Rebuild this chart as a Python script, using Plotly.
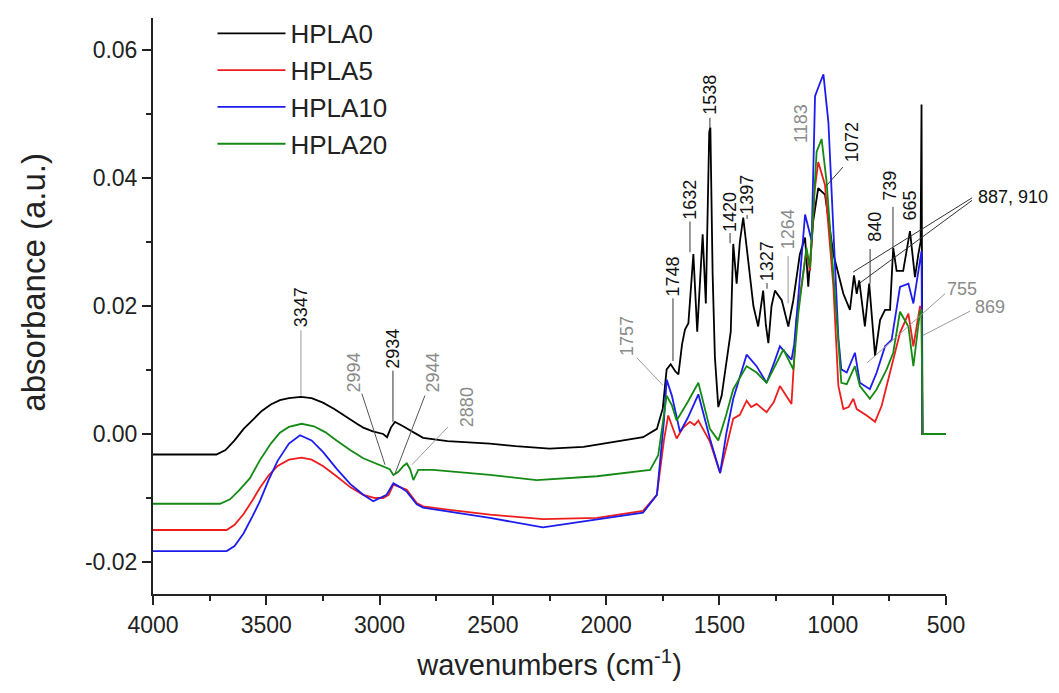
# Espectros FTIR de las muestras HPLA (absorbancia vs número de onda)

# ------------------------------- Librerias necesarias -------------------------------
import plotly.graph_objects as go

# ------------------------------- Datos -------------------------------

# HPLA0 (negro)
wn_hpla0 = [4000, 3900, 3800, 3720, 3680, 3640, 3600, 3560, 3520, 3480, 3440, 3400, 3347,
            3300, 3250, 3200, 3150, 3100, 3072, 3030, 2984, 2967, 2950, 2932, 2900, 2866,
            2808, 2700, 2600, 2513, 2400, 2250, 2100, 2014, 1900, 1837, 1776, 1750, 1733,
            1715, 1695, 1681, 1665, 1652, 1637, 1615, 1598, 1585, 1574, 1560, 1545, 1540,
            1530, 1520, 1505, 1490, 1461, 1450, 1439, 1424, 1410, 1395, 1373, 1350, 1329,
            1307, 1295, 1284, 1270, 1255, 1225, 1196, 1174, 1145, 1122, 1108, 1086, 1064,
            1034, 997, 953, 924, 906, 894, 883, 858, 839, 813, 791, 769, 747, 733, 718, 689,
            659, 637, 622, 612, 608, 604, 500]
abs_hpla0 = [-0.0032, -0.0032, -0.0031, -0.0032, -0.0025, -0.0010, 0.0008, 0.0022, 0.0036,
             0.0046, 0.0053, 0.0056, 0.0058, 0.0056, 0.0049, 0.0039, 0.0027, 0.0016, 0.0010,
             0.0004, 0.0000, -0.0005, 0.0010, 0.0019, 0.0013, 0.0006, -0.0006, -0.0011,
             -0.0013, -0.0015, -0.0019, -0.0023, -0.0020, -0.0015, -0.0009, -0.0005, 0.0008,
             0.0040, 0.0101, 0.0109, 0.0098, 0.0093, 0.0140, 0.0163, 0.0173, 0.0281, 0.0160,
             0.0250, 0.0312, 0.0204, 0.0472, 0.0479, 0.0250, 0.0120, 0.0042, 0.0060, 0.0137,
             0.0160, 0.0297, 0.0235, 0.0300, 0.0338, 0.0271, 0.0200, 0.0168, 0.0224, 0.0170,
             0.0142, 0.0200, 0.0224, 0.0209, 0.0168, 0.0209, 0.0281, 0.0307, 0.0230, 0.0333,
             0.0384, 0.0374, 0.0281, 0.0219, 0.0194, 0.0248, 0.0219, 0.0240, 0.0168, 0.0235,
             0.0122, 0.0178, 0.0194, 0.0194, 0.0291, 0.0255, 0.0255, 0.0317, 0.0245, 0.0281,
             0.0300, 0.0515, 0.0000, 0.0000]

# HPLA5 (rojo)
wn_hpla5 = [4000, 3800, 3675, 3640, 3600, 3560, 3528, 3490, 3450, 3400, 3344, 3300, 3250,
            3190, 3130, 3072, 3020, 2984, 2960, 2939, 2910, 2880, 2836, 2808, 2700, 2513,
            2279, 2040, 1837, 1776, 1745, 1726, 1689, 1660, 1630, 1610, 1593, 1542, 1497,
            1470, 1439, 1410, 1380, 1360, 1336, 1292, 1260, 1233, 1182, 1160, 1116, 1100,
            1080, 1064, 1034, 997, 975, 953, 930, 909, 894, 850, 813, 784, 740, 703, 666,
            644, 615, 608, 604, 500]
abs_hpla5 = [-0.0150, -0.0150, -0.0150, -0.0142, -0.0125, -0.0103, -0.0084, -0.0065, -0.0050,
             -0.0040, -0.0037, -0.0040, -0.0050, -0.0066, -0.0083, -0.0095, -0.0100, -0.0100,
             -0.0095, -0.0079, -0.0083, -0.0087, -0.0108, -0.0113, -0.0118, -0.0126, -0.0133,
             -0.0131, -0.0120, -0.0095, -0.0010, 0.0029, -0.0007, 0.0010, 0.0019, 0.0014,
             0.0021, -0.0012, -0.0061, -0.0020, 0.0024, 0.0030, 0.0052, 0.0042, 0.0047,
             0.0034, 0.0050, 0.0075, 0.0047, 0.0178, 0.0286, 0.0255, 0.0380, 0.0425, 0.0389,
             0.0230, 0.0075, 0.0039, 0.0042, 0.0055, 0.0039, 0.0029, 0.0019, 0.0044, 0.0106,
             0.0158, 0.0188, 0.0137, 0.0199, 0.0199, 0.0000, 0.0000]

# HPLA10 (azul)
wn_hpla10 = [4000, 3800, 3675, 3640, 3600, 3560, 3528, 3490, 3450, 3400, 3351, 3300, 3250,
             3190, 3130, 3072, 3028, 2969, 2939, 2910, 2880, 2836, 2808, 2700, 2513, 2279,
             2040, 1837, 1776, 1745, 1733, 1710, 1674, 1640, 1593, 1542, 1497, 1470, 1439,
             1410, 1380, 1336, 1292, 1260, 1233, 1182, 1170, 1152, 1122, 1093, 1078, 1060,
             1041, 1019, 997, 975, 962, 938, 902, 880, 836, 806, 769, 740, 703, 666, 644,
             615, 608, 604, 500]
abs_hpla10 = [-0.0183, -0.0183, -0.0183, -0.0175, -0.0155, -0.0128, -0.0105, -0.0072, -0.0042,
              -0.0015, -0.0002, -0.0010, -0.0028, -0.0054, -0.0078, -0.0095, -0.0105, -0.0095,
              -0.0077, -0.0083, -0.0090, -0.0110, -0.0115, -0.0121, -0.0131, -0.0146, -0.0133,
              -0.0123, -0.0095, 0.0020, 0.0085, 0.0060, 0.0003, 0.0025, 0.0062, -0.0007,
              -0.0061, 0.0000, 0.0055, 0.0090, 0.0124, 0.0106, 0.0080, 0.0110, 0.0137, 0.0116,
              0.0140, 0.0214, 0.0343, 0.0302, 0.0528, 0.0545, 0.0562, 0.0487, 0.0322, 0.0150,
              0.0101, 0.0096, 0.0127, 0.0080, 0.0070, 0.0096, 0.0137, 0.0147, 0.0230, 0.0235,
              0.0204, 0.0270, 0.0286, 0.0000, 0.0000]

# HPLA20 (verde)
wn_hpla20 = [4000, 3800, 3704, 3660, 3620, 3572, 3530, 3480, 3440, 3400, 3344, 3290, 3240,
             3190, 3130, 3072, 2984, 2955, 2939, 2917, 2895, 2880, 2865, 2851, 2829, 2764,
             2513, 2307, 2040, 1806, 1770, 1745, 1733, 1710, 1689, 1640, 1593, 1542, 1505,
             1470, 1439, 1380, 1336, 1292, 1218, 1174, 1152, 1116, 1100, 1071, 1049, 1027,
             997, 962, 938, 902, 880, 836, 806, 762, 733, 703, 666, 644, 615, 608, 604, 500]
abs_hpla20 = [-0.0109, -0.0109, -0.0109, -0.0102, -0.0088, -0.0069, -0.0042, -0.0015, 0.0002,
              0.0011, 0.0016, 0.0012, 0.0003, -0.0010, -0.0025, -0.0038, -0.0051, -0.0055,
              -0.0064, -0.0059, -0.0050, -0.0046, -0.0055, -0.0072, -0.0056, -0.0056, -0.0064,
              -0.0072, -0.0066, -0.0056, -0.0033, 0.0030, 0.0060, 0.0045, 0.0021, 0.0050,
              0.0080, 0.0008, -0.0010, 0.0030, 0.0070, 0.0106, 0.0096, 0.0080, 0.0132, 0.0101,
              0.0188, 0.0291, 0.0260, 0.0441, 0.0461, 0.0394, 0.0255, 0.0080, 0.0078, 0.0106,
              0.0075, 0.0055, 0.0070, 0.0101, 0.0127, 0.0191, 0.0168, 0.0106, 0.0190, 0.0194,
              0.0000, 0.0000]

nombres = ["HPLA0", "HPLA5", "HPLA10", "HPLA20"]
colores = ["#000000", "#ee1c1c", "#1c1cee", "#148a14"]

# Etiquetas de bandas: (texto, posición en número de onda, absorbancia, color, ángulo)
etiquetas = [
    ("3347", 3347, 0.0198, "#111111", -90),
    ("2994", 3117, 0.0096, "#8a8a8a", -90),
    ("2934", 2941, 0.0133, "#111111", -90),
    ("2944", 2764, 0.0096, "#8a8a8a", -90),
    ("2880", 2614, 0.0042, "#8a8a8a", -90),
    ("1757", 1908, 0.0153, "#8a8a8a", -90),
    ("1748", 1705, 0.0246, "#111111", -90),
    ("1632", 1630, 0.0366, "#111111", -90),
    ("1538", 1542, 0.0530, "#111111", -90),
    ("1420", 1453, 0.0347, "#111111", -90),
    ("1397", 1378, 0.0374, "#111111", -90),
    ("1327", 1290, 0.0270, "#111111", -90),
    ("1264", 1197, 0.0320, "#8a8a8a", -90),
    ("1183", 1140, 0.0486, "#8a8a8a", -90),
    ("1072", 915, 0.0456, "#111111", -90),
    ("840", 813, 0.0324, "#111111", -90),
    ("739", 747, 0.0388, "#111111", -90),
    ("665", 659, 0.0357, "#111111", -90),
    ("887, 910", 204, 0.0371, "#111111", 0),
    ("755", 429, 0.0227, "#8a8a8a", 0),
    ("869", 306, 0.0198, "#8a8a8a", 0),
]

# Líneas guía: (wn inicial, abs inicial, wn final, abs final, color)
guias = [
    (3347, 0.0162, 3347, 0.0060, "#9a9a9a"),
    (3078, 0.0063, 2976, -0.0048, "#555555"),
    (2941, 0.0099, 2941, 0.0019, "#333333"),
    (2800, 0.0060, 2932, -0.0062, "#555555"),
    (2698, 0.0011, 2857, -0.0048, "#9a9a9a"),
    (1864, 0.0119, 1749, 0.0076, "#9a9a9a"),
    (1705, 0.0212, 1705, 0.0114, "#333333"),
    (1630, 0.0332, 1630, 0.0284, "#333333"),
    (1542, 0.0494, 1542, 0.0479, "#333333"),
    (1453, 0.0314, 1453, 0.0298, "#333333"),
    (1378, 0.0342, 1378, 0.0336, "#333333"),
    (1290, 0.0236, 1290, 0.0227, "#333333"),
    (1197, 0.0278, 1197, 0.0204, "#9a9a9a"),
    (955, 0.0417, 1025, 0.0389, "#333333"),
    (835, 0.0289, 835, 0.0235, "#333333"),
    (734, 0.0355, 734, 0.0292, "#333333"),
    (385, 0.0369, 910, 0.0253, "#333333"),
    (385, 0.0365, 880, 0.0236, "#333333"),
    (505, 0.0219, 849, 0.0111, "#9a9a9a"),
    (394, 0.0192, 602, 0.0154, "#9a9a9a"),
]

# ------------------------------- Funciones -------------------------------

X_MIN, X_MAX = 500, 4000
Y_MIN, Y_MAX = -0.025, 0.065


# Convierte coordenadas de datos a coordenadas de papel (eje x invertido)
def a_papel(wn, a):
    return (X_MAX - wn) / (X_MAX - X_MIN), (a - Y_MIN) / (Y_MAX - Y_MIN)


# ------------------------------- Figura -------------------------------

fig = go.Figure()

series = [(wn_hpla0, abs_hpla0), (wn_hpla5, abs_hpla5),
          (wn_hpla10, abs_hpla10), (wn_hpla20, abs_hpla20)]

for (wn, ab), nombre, color in zip(series, nombres, colores):
    fig.add_trace(go.Scatter(x = wn, y = ab, mode = "lines", name = nombre,
                             line = dict(color = color, width = 1.8)))

# Las etiquetas van en coordenadas de papel para poder salir del área del gráfico
for texto, wn, a, color, angulo in etiquetas:
    xp, yp = a_papel(wn, a)
    fig.add_annotation(x = xp, y = yp, xref = "paper", yref = "paper", text = texto,
                       xanchor = "center", yanchor = "middle",
                       showarrow = False, textangle = angulo,
                       font = dict(size = 18, color = color))

for wn0, a0, wn1, a1, color in guias:
    x0, y0 = a_papel(wn0, a0)
    x1, y1 = a_papel(wn1, a1)
    fig.add_shape(type = "line", xref = "paper", yref = "paper",
                  x0 = x0, y0 = y0, x1 = x1, y1 = y1,
                  line = dict(color = color, width = 1))

fuente = "Liberation Sans, Arial, sans-serif"

# Título del eje y como anotación (está algo por encima del centro del eje)
fig.add_annotation(x = -0.151, y = 0.541, xref = "paper", yref = "paper",
                   text = "absorbance (a.u.)", textangle = -90, showarrow = False,
                   xanchor = "center", yanchor = "middle",
                   font = dict(size = 33, color = "#222222"))

fig.update_layout(
    width = 1059, height = 693,
    margin = dict(l = 145, r = 121, t = 2, b = 107),
    paper_bgcolor = "white", plot_bgcolor = "white",
    font = dict(family = fuente, color = "#222222"),
    showlegend = True,
    legend = dict(x = 0.075, y = 1.014, xanchor = "left", yanchor = "top",
                  font = dict(size = 26, color = "#222222"),
                  bgcolor = "rgba(0,0,0,0)", itemwidth = 68, tracegroupgap = 0),
)

fig.update_xaxes(
    range = [X_MAX, X_MIN], tickmode = "array",
    tickvals = [4000, 3500, 3000, 2500, 2000, 1500, 1000, 500],
    ticks = "outside", ticklen = 9, tickwidth = 1.5, tickcolor = "#222222",
    minor = dict(dtick = 250, ticks = "outside", ticklen = 5, tickcolor = "#222222"),
    showline = True, linecolor = "#222222", linewidth = 2, showgrid = False, zeroline = False,
    tickfont = dict(size = 23),
    title = dict(text = "wavenumbers (cm<sup>-1</sup>)", font = dict(size = 29), standoff = 18),
)

fig.update_yaxes(
    range = [Y_MIN, Y_MAX], tickmode = "array",
    tickvals = [-0.02, 0.0, 0.02, 0.04, 0.06],
    ticktext = ["-0.02", "0.00", "0.02", "0.04", "0.06"],
    ticks = "outside", ticklen = 9, tickwidth = 1.5, tickcolor = "#222222",
    minor = dict(dtick = 0.01, ticks = "outside", ticklen = 5, tickcolor = "#222222"),
    showline = True, linecolor = "#222222", linewidth = 2, showgrid = False, zeroline = False,
    tickfont = dict(size = 23),
)

fig.write_html("out.html")
